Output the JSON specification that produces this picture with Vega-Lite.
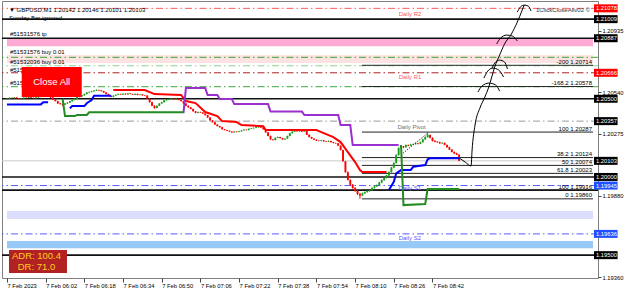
{
"$schema":"https://vega.github.io/schema/vega-lite/v6.json",
"width":596,"height":277,"autosize":"none",
"padding":{"left":2,"top":1,"right":27,"bottom":12},
"background":"white",
"config":{"view":{"stroke":"#808080"},"text":{"font":"Liberation Sans","fontSize":6},"axis":{"labelFont":"Liberation Sans","grid":false}},
"resolve":{"scale":{"color":"independent"}},
"layer":[
{"data":{"values":[{"p1":1.20882,"p2":1.20835,"g":"pk"},{"p1":1.20779,"p2":1.20728,"g":"lp"},{"p1":1.19782,"p2":1.19731,"g":"lv"},{"p1":1.1959,"p2":1.19545,"g":"lb"}]},
 "mark":{"type":"rect"},
 "encoding":{
  "x":{"datum":{"year":1900,"month":1,"date":1,"hours":5,"minutes":46},"type":"temporal","scale":{"type":"time","domain":[{"year":1900,"month":1,"date":1,"hours":5,"minutes":46},{"year":1900,"month":1,"date":1,"hours":9,"minutes":48,"seconds":24}],"nice":false},"axis":{"title":null}},
  "x2":{"datum":{"year":1900,"month":1,"date":1,"hours":9,"minutes":48,"seconds":24}},
  "y":{"field":"p1","type":"quantitative","scale":{"domain":[1.19354,1.21125],"nice":false,"zero":false},"axis":{"title":null}},
  "y2":{"field":"p2"},
  "color":{"field":"g","type":"nominal","scale":{"domain":["pk","lp","lv","lb"],"range":["#ffaad4","#fde2e2","#dcdcfc","#98c8f6"]},"legend":null}}},
{"data":{"values":[{"p":1.21078,"g":"R2"},{"p":1.20765,"g":"G"},{"p":1.20711,"g":"G2"},{"p":1.20666,"g":"R1"},{"p":1.20577,"g":"G"},{"p":1.20357,"g":"PV"},{"p":1.19945,"g":"S"},{"p":1.19636,"g":"S"}]},
 "mark":{"type":"rule","strokeDash":[7,3,1.5,3],"strokeWidth":1},
 "encoding":{
  "y":{"field":"p","type":"quantitative","scale":{"domain":[1.19354,1.21125],"nice":false,"zero":false},"axis":{"title":null}},
  "color":{"field":"g","type":"nominal","scale":{"domain":["R2","R1","G","G2","PV","S"],"range":["#ff5a5a","#b22222","#3aa63a","#8fd18f","#9a9a9a","#5a5aff"]},"legend":null}}},
{"data":{"values":[{"p":1.21009},{"p":1.20887},{"p":1.205},{"p":1.2},{"p":1.19916},{"p":1.195}]},
 "mark":{"type":"rule","color":"#111111","strokeWidth":1.6},
 "encoding":{"y":{"field":"p","type":"quantitative","scale":{"domain":[1.19354,1.21125],"nice":false,"zero":false},"axis":{"title":null}}}},
{"data":{"values":[{"p":1.20103}]},
 "mark":{"type":"rule","color":"#c8c8c8","strokeWidth":1},
 "encoding":{"y":{"field":"p","type":"quantitative","scale":{"domain":[1.19354,1.21125],"nice":false,"zero":false},"axis":{"title":null}}}},
{"data":{"values":[{"p":1.20714,"lab":"-200 1.20714"},{"p":1.20578,"lab":"-168.2 1.20578"},{"p":1.20287,"lab":"100 1.20287"},{"p":1.20124,"lab":"38.2 1.20124"},{"p":1.20074,"lab":"50 1.20074"},{"p":1.20023,"lab":"61.8 1.20023"},{"p":1.19916,"lab":"100 1.19916"},{"p":1.1986,"lab":"0 1.19860"}]},
 "layer":[
 {"mark":{"type":"rule","color":"#222222","strokeWidth":1},
  "encoding":{
   "x":{"datum":{"year":1900,"month":1,"date":1,"hours":8,"minutes":12,"seconds":49},"type":"temporal","scale":{"type":"time","domain":[{"year":1900,"month":1,"date":1,"hours":5,"minutes":46},{"year":1900,"month":1,"date":1,"hours":9,"minutes":48,"seconds":24}],"nice":false},"axis":{"title":null}},
   "x2":{"datum":{"year":1900,"month":1,"date":1,"hours":9,"minutes":48,"seconds":24}},
   "y":{"field":"p","type":"quantitative","scale":{"domain":[1.19354,1.21125],"nice":false,"zero":false},"axis":{"title":null}}}},
 {"mark":{"type":"text","align":"right","baseline":"bottom","dy":-0.5,"fontSize":6,"color":"#000000"},
  "encoding":{
   "x":{"datum":{"year":1900,"month":1,"date":1,"hours":9,"minutes":47,"seconds":59},"type":"temporal","scale":{"type":"time","domain":[{"year":1900,"month":1,"date":1,"hours":5,"minutes":46},{"year":1900,"month":1,"date":1,"hours":9,"minutes":48,"seconds":24}],"nice":false},"axis":{"title":null}},
   "y":{"field":"p","type":"quantitative","scale":{"domain":[1.19354,1.21125],"nice":false,"zero":false},"axis":{"title":null}},
   "text":{"field":"lab"}}}
 ]},
{"data":{"format":{"parse":{"t":"date:'%H:%M'"}},"values":[
{"t":"05:46","o":1.20498,"h":1.20503,"l":1.20496,"c":1.20500},
{"t":"05:47","o":1.20500,"h":1.20508,"l":1.20499,"c":1.20506},
{"t":"05:48","o":1.20506,"h":1.20507,"l":1.20501,"c":1.20503},
{"t":"05:49","o":1.20503,"h":1.20510,"l":1.20502,"c":1.20508},
{"t":"05:50","o":1.20508,"h":1.20509,"l":1.20502,"c":1.20504},
{"t":"05:51","o":1.20504,"h":1.20505,"l":1.20497,"c":1.20499},
{"t":"05:52","o":1.20499,"h":1.20504,"l":1.20498,"c":1.20502},
{"t":"05:53","o":1.20502,"h":1.20509,"l":1.20501,"c":1.20507},
{"t":"05:54","o":1.20507,"h":1.20508,"l":1.20503,"c":1.20505},
{"t":"05:55","o":1.20505,"h":1.20512,"l":1.20504,"c":1.20510},
{"t":"05:56","o":1.20510,"h":1.20511,"l":1.20504,"c":1.20506},
{"t":"05:57","o":1.20506,"h":1.20507,"l":1.20501,"c":1.20503},
{"t":"05:58","o":1.20503,"h":1.20510,"l":1.20502,"c":1.20508},
{"t":"05:59","o":1.20508,"h":1.20514,"l":1.20507,"c":1.20512},
{"t":"06:00","o":1.20512,"h":1.20517,"l":1.20510,"c":1.20515},
{"t":"06:01","o":1.20515,"h":1.20521,"l":1.20514,"c":1.20518},
{"t":"06:02","o":1.20518,"h":1.20519,"l":1.20512,"c":1.20514},
{"t":"06:03","o":1.20514,"h":1.20522,"l":1.20513,"c":1.20519},
{"t":"06:04","o":1.20519,"h":1.20520,"l":1.20506,"c":1.20508},
{"t":"06:05","o":1.20508,"h":1.20510,"l":1.20493,"c":1.20495},
{"t":"06:06","o":1.20495,"h":1.20497,"l":1.20483,"c":1.20485},
{"t":"06:07","o":1.20485,"h":1.20487,"l":1.20468,"c":1.20470},
{"t":"06:08","o":1.20470,"h":1.20474,"l":1.20463,"c":1.20466},
{"t":"06:09","o":1.20466,"h":1.20468,"l":1.20455,"c":1.20462},
{"t":"06:10","o":1.20462,"h":1.20472,"l":1.20460,"c":1.20470},
{"t":"06:11","o":1.20470,"h":1.20478,"l":1.20468,"c":1.20475},
{"t":"06:12","o":1.20475,"h":1.20486,"l":1.20473,"c":1.20484},
{"t":"06:13","o":1.20484,"h":1.20494,"l":1.20482,"c":1.20492},
{"t":"06:14","o":1.20492,"h":1.20502,"l":1.20490,"c":1.20500},
{"t":"06:15","o":1.20500,"h":1.20513,"l":1.20498,"c":1.20511},
{"t":"06:16","o":1.20511,"h":1.20518,"l":1.20509,"c":1.20515},
{"t":"06:17","o":1.20515,"h":1.20524,"l":1.20513,"c":1.20522},
{"t":"06:18","o":1.20522,"h":1.20533,"l":1.20520,"c":1.20530},
{"t":"06:19","o":1.20530,"h":1.20542,"l":1.20528,"c":1.20540},
{"t":"06:20","o":1.20540,"h":1.20546,"l":1.20536,"c":1.20543},
{"t":"06:21","o":1.20543,"h":1.20551,"l":1.20541,"c":1.20548},
{"t":"06:22","o":1.20548,"h":1.20555,"l":1.20546,"c":1.20552},
{"t":"06:23","o":1.20552,"h":1.20560,"l":1.20550,"c":1.20556},
{"t":"06:24","o":1.20556,"h":1.20558,"l":1.20550,"c":1.20553},
{"t":"06:25","o":1.20553,"h":1.20555,"l":1.20546,"c":1.20549},
{"t":"06:26","o":1.20549,"h":1.20551,"l":1.20538,"c":1.20540},
{"t":"06:27","o":1.20540,"h":1.20542,"l":1.20528,"c":1.20530},
{"t":"06:28","o":1.20530,"h":1.20532,"l":1.20518,"c":1.20520},
{"t":"06:29","o":1.20520,"h":1.20522,"l":1.20509,"c":1.20512},
{"t":"06:30","o":1.20512,"h":1.20522,"l":1.20510,"c":1.20520},
{"t":"06:31","o":1.20520,"h":1.20527,"l":1.20518,"c":1.20525},
{"t":"06:32","o":1.20525,"h":1.20533,"l":1.20523,"c":1.20530},
{"t":"06:33","o":1.20530,"h":1.20532,"l":1.20525,"c":1.20527},
{"t":"06:34","o":1.20527,"h":1.20535,"l":1.20525,"c":1.20532},
{"t":"06:35","o":1.20532,"h":1.20534,"l":1.20526,"c":1.20528},
{"t":"06:36","o":1.20528,"h":1.20537,"l":1.20527,"c":1.20534},
{"t":"06:37","o":1.20534,"h":1.20536,"l":1.20528,"c":1.20530},
{"t":"06:38","o":1.20530,"h":1.20532,"l":1.20524,"c":1.20526},
{"t":"06:39","o":1.20526,"h":1.20534,"l":1.20524,"c":1.20531},
{"t":"06:40","o":1.20531,"h":1.20533,"l":1.20522,"c":1.20524},
{"t":"06:41","o":1.20524,"h":1.20530,"l":1.20522,"c":1.20528},
{"t":"06:42","o":1.20528,"h":1.20530,"l":1.20520,"c":1.20522},
{"t":"06:43","o":1.20522,"h":1.20524,"l":1.20517,"c":1.20520},
{"t":"06:44","o":1.20520,"h":1.20522,"l":1.20498,"c":1.20500},
{"t":"06:45","o":1.20500,"h":1.20502,"l":1.20475,"c":1.20478},
{"t":"06:46","o":1.20478,"h":1.20480,"l":1.20452,"c":1.20455},
{"t":"06:47","o":1.20455,"h":1.20458,"l":1.20436,"c":1.20441},
{"t":"06:48","o":1.20441,"h":1.20457,"l":1.20439,"c":1.20455},
{"t":"06:49","o":1.20455,"h":1.20472,"l":1.20453,"c":1.20470},
{"t":"06:50","o":1.20470,"h":1.20481,"l":1.20468,"c":1.20478},
{"t":"06:51","o":1.20478,"h":1.20492,"l":1.20476,"c":1.20490},
{"t":"06:52","o":1.20490,"h":1.20498,"l":1.20488,"c":1.20495},
{"t":"06:53","o":1.20495,"h":1.20501,"l":1.20493,"c":1.20498},
{"t":"06:54","o":1.20498,"h":1.20505,"l":1.20496,"c":1.20502},
{"t":"06:55","o":1.20502,"h":1.20504,"l":1.20494,"c":1.20496},
{"t":"06:56","o":1.20496,"h":1.20503,"l":1.20494,"c":1.20500},
{"t":"06:57","o":1.20500,"h":1.20502,"l":1.20490,"c":1.20492},
{"t":"06:58","o":1.20492,"h":1.20494,"l":1.20483,"c":1.20485},
{"t":"06:59","o":1.20485,"h":1.20487,"l":1.20468,"c":1.20470},
{"t":"07:00","o":1.20470,"h":1.20472,"l":1.20452,"c":1.20455},
{"t":"07:01","o":1.20455,"h":1.20458,"l":1.20443,"c":1.20445},
{"t":"07:02","o":1.20445,"h":1.20447,"l":1.20432,"c":1.20435},
{"t":"07:03","o":1.20435,"h":1.20437,"l":1.20418,"c":1.20420},
{"t":"07:04","o":1.20420,"h":1.20422,"l":1.20407,"c":1.20410},
{"t":"07:05","o":1.20410,"h":1.20418,"l":1.20408,"c":1.20415},
{"t":"07:06","o":1.20415,"h":1.20417,"l":1.20410,"c":1.20412},
{"t":"07:07","o":1.20412,"h":1.20414,"l":1.20403,"c":1.20405},
{"t":"07:08","o":1.20405,"h":1.20407,"l":1.20393,"c":1.20395},
{"t":"07:09","o":1.20395,"h":1.20397,"l":1.20378,"c":1.20380},
{"t":"07:10","o":1.20380,"h":1.20382,"l":1.20360,"c":1.20362},
{"t":"07:11","o":1.20362,"h":1.20364,"l":1.20348,"c":1.20350},
{"t":"07:12","o":1.20350,"h":1.20352,"l":1.20333,"c":1.20335},
{"t":"07:13","o":1.20335,"h":1.20337,"l":1.20323,"c":1.20325},
{"t":"07:14","o":1.20325,"h":1.20327,"l":1.20315,"c":1.20318},
{"t":"07:15","o":1.20318,"h":1.20320,"l":1.20303,"c":1.20305},
{"t":"07:16","o":1.20305,"h":1.20307,"l":1.20298,"c":1.20300},
{"t":"07:17","o":1.20300,"h":1.20302,"l":1.20293,"c":1.20295},
{"t":"07:18","o":1.20295,"h":1.20297,"l":1.20288,"c":1.20290},
{"t":"07:19","o":1.20290,"h":1.20292,"l":1.20282,"c":1.20285},
{"t":"07:20","o":1.20285,"h":1.20293,"l":1.20283,"c":1.20290},
{"t":"07:21","o":1.20290,"h":1.20292,"l":1.20285,"c":1.20288},
{"t":"07:22","o":1.20288,"h":1.20295,"l":1.20286,"c":1.20292},
{"t":"07:23","o":1.20292,"h":1.20300,"l":1.20290,"c":1.20298},
{"t":"07:24","o":1.20298,"h":1.20305,"l":1.20296,"c":1.20302},
{"t":"07:25","o":1.20302,"h":1.20304,"l":1.20297,"c":1.20300},
{"t":"07:26","o":1.20300,"h":1.20310,"l":1.20298,"c":1.20308},
{"t":"07:27","o":1.20308,"h":1.20313,"l":1.20306,"c":1.20311},
{"t":"07:28","o":1.20311,"h":1.20316,"l":1.20309,"c":1.20314},
{"t":"07:29","o":1.20314,"h":1.20321,"l":1.20312,"c":1.20318},
{"t":"07:30","o":1.20318,"h":1.20326,"l":1.20316,"c":1.20322},
{"t":"07:31","o":1.20322,"h":1.20330,"l":1.20314,"c":1.20316},
{"t":"07:32","o":1.20316,"h":1.20318,"l":1.20303,"c":1.20305},
{"t":"07:33","o":1.20305,"h":1.20307,"l":1.20283,"c":1.20285},
{"t":"07:34","o":1.20285,"h":1.20287,"l":1.20260,"c":1.20262},
{"t":"07:35","o":1.20262,"h":1.20264,"l":1.20238,"c":1.20240},
{"t":"07:36","o":1.20240,"h":1.20242,"l":1.20233,"c":1.20236},
{"t":"07:37","o":1.20236,"h":1.20252,"l":1.20234,"c":1.20250},
{"t":"07:38","o":1.20250,"h":1.20258,"l":1.20248,"c":1.20255},
{"t":"07:39","o":1.20255,"h":1.20257,"l":1.20246,"c":1.20248},
{"t":"07:40","o":1.20248,"h":1.20250,"l":1.20238,"c":1.20240},
{"t":"07:41","o":1.20240,"h":1.20247,"l":1.20238,"c":1.20245},
{"t":"07:42","o":1.20245,"h":1.20264,"l":1.20243,"c":1.20262},
{"t":"07:43","o":1.20262,"h":1.20282,"l":1.20260,"c":1.20280},
{"t":"07:44","o":1.20280,"h":1.20292,"l":1.20278,"c":1.20290},
{"t":"07:45","o":1.20290,"h":1.20297,"l":1.20288,"c":1.20294},
{"t":"07:46","o":1.20294,"h":1.20296,"l":1.20289,"c":1.20292},
{"t":"07:47","o":1.20292,"h":1.20299,"l":1.20290,"c":1.20296},
{"t":"07:48","o":1.20296,"h":1.20298,"l":1.20288,"c":1.20290},
{"t":"07:49","o":1.20290,"h":1.20297,"l":1.20288,"c":1.20294},
{"t":"07:50","o":1.20294,"h":1.20296,"l":1.20268,"c":1.20270},
{"t":"07:51","o":1.20270,"h":1.20272,"l":1.20253,"c":1.20255},
{"t":"07:52","o":1.20255,"h":1.20257,"l":1.20243,"c":1.20245},
{"t":"07:53","o":1.20245,"h":1.20247,"l":1.20236,"c":1.20238},
{"t":"07:54","o":1.20238,"h":1.20240,"l":1.20230,"c":1.20232},
{"t":"07:55","o":1.20232,"h":1.20234,"l":1.20228,"c":1.20230},
{"t":"07:56","o":1.20230,"h":1.20237,"l":1.20228,"c":1.20234},
{"t":"07:57","o":1.20234,"h":1.20236,"l":1.20226,"c":1.20228},
{"t":"07:58","o":1.20228,"h":1.20230,"l":1.20223,"c":1.20226},
{"t":"07:59","o":1.20226,"h":1.20233,"l":1.20224,"c":1.20230},
{"t":"08:00","o":1.20230,"h":1.20232,"l":1.20220,"c":1.20222},
{"t":"08:01","o":1.20222,"h":1.20224,"l":1.20215,"c":1.20217},
{"t":"08:02","o":1.20217,"h":1.20219,"l":1.20212,"c":1.20215},
{"t":"08:03","o":1.20215,"h":1.20217,"l":1.20198,"c":1.20200},
{"t":"08:04","o":1.20200,"h":1.20202,"l":1.20170,"c":1.20172},
{"t":"08:05","o":1.20172,"h":1.20174,"l":1.20098,"c":1.20100},
{"t":"08:06","o":1.20100,"h":1.20102,"l":1.20028,"c":1.20030},
{"t":"08:07","o":1.20030,"h":1.20035,"l":1.19978,"c":1.19980},
{"t":"08:08","o":1.19980,"h":1.19985,"l":1.19945,"c":1.19950},
{"t":"08:09","o":1.19950,"h":1.19955,"l":1.19925,"c":1.19929},
{"t":"08:10","o":1.19929,"h":1.19935,"l":1.19905,"c":1.19910},
{"t":"08:11","o":1.19910,"h":1.19915,"l":1.19885,"c":1.19891},
{"t":"08:12","o":1.19891,"h":1.19898,"l":1.19860,"c":1.19882},
{"t":"08:13","o":1.19882,"h":1.19900,"l":1.19878,"c":1.19895},
{"t":"08:14","o":1.19895,"h":1.19907,"l":1.19890,"c":1.19903},
{"t":"08:15","o":1.19903,"h":1.19914,"l":1.19900,"c":1.19910},
{"t":"08:16","o":1.19910,"h":1.19920,"l":1.19905,"c":1.19916},
{"t":"08:17","o":1.19916,"h":1.19934,"l":1.19912,"c":1.19930},
{"t":"08:18","o":1.19930,"h":1.19944,"l":1.19926,"c":1.19940},
{"t":"08:19","o":1.19940,"h":1.19952,"l":1.19936,"c":1.19948},
{"t":"08:20","o":1.19948,"h":1.19969,"l":1.19944,"c":1.19965},
{"t":"08:21","o":1.19965,"h":1.19984,"l":1.19960,"c":1.19980},
{"t":"08:22","o":1.19980,"h":1.19997,"l":1.19976,"c":1.19993},
{"t":"08:23","o":1.19993,"h":1.20014,"l":1.19990,"c":1.20010},
{"t":"08:24","o":1.20010,"h":1.20036,"l":1.20007,"c":1.20031},
{"t":"08:25","o":1.20031,"h":1.20064,"l":1.20028,"c":1.20060},
{"t":"08:26","o":1.20060,"h":1.20094,"l":1.20056,"c":1.20089},
{"t":"08:27","o":1.20089,"h":1.20146,"l":1.20086,"c":1.20140},
{"t":"08:28","o":1.20140,"h":1.20190,"l":1.20136,"c":1.20185},
{"t":"08:29","o":1.20185,"h":1.20200,"l":1.20182,"c":1.20195},
{"t":"08:30","o":1.20195,"h":1.20198,"l":1.20184,"c":1.20190},
{"t":"08:31","o":1.20190,"h":1.20208,"l":1.20187,"c":1.20204},
{"t":"08:32","o":1.20204,"h":1.20207,"l":1.20196,"c":1.20200},
{"t":"08:33","o":1.20200,"h":1.20212,"l":1.20197,"c":1.20208},
{"t":"08:34","o":1.20208,"h":1.20214,"l":1.20205,"c":1.20210},
{"t":"08:35","o":1.20210,"h":1.20219,"l":1.20207,"c":1.20215},
{"t":"08:36","o":1.20215,"h":1.20218,"l":1.20208,"c":1.20212},
{"t":"08:37","o":1.20212,"h":1.20226,"l":1.20210,"c":1.20222},
{"t":"08:38","o":1.20222,"h":1.20244,"l":1.20220,"c":1.20240},
{"t":"08:39","o":1.20240,"h":1.20259,"l":1.20237,"c":1.20255},
{"t":"08:40","o":1.20255,"h":1.20287,"l":1.20252,"c":1.20268},
{"t":"08:41","o":1.20268,"h":1.20271,"l":1.20247,"c":1.20250},
{"t":"08:42","o":1.20250,"h":1.20253,"l":1.20227,"c":1.20230},
{"t":"08:43","o":1.20230,"h":1.20236,"l":1.20222,"c":1.20225},
{"t":"08:44","o":1.20225,"h":1.20229,"l":1.20219,"c":1.20222},
{"t":"08:45","o":1.20222,"h":1.20226,"l":1.20212,"c":1.20215},
{"t":"08:46","o":1.20215,"h":1.20222,"l":1.20212,"c":1.20218},
{"t":"08:47","o":1.20218,"h":1.20220,"l":1.20203,"c":1.20205},
{"t":"08:48","o":1.20205,"h":1.20208,"l":1.20187,"c":1.20190},
{"t":"08:49","o":1.20190,"h":1.20193,"l":1.20172,"c":1.20175},
{"t":"08:50","o":1.20175,"h":1.20178,"l":1.20157,"c":1.20160},
{"t":"08:51","o":1.20160,"h":1.20163,"l":1.20147,"c":1.20150},
{"t":"08:52","o":1.20150,"h":1.20155,"l":1.20140,"c":1.20142},
{"t":"08:53","o":1.20142,"h":1.20146,"l":1.20101,"c":1.20103}
]},
 "layer":[
 {"mark":{"type":"rule","strokeWidth":1},
  "encoding":{
   "x":{"field":"t","type":"temporal","scale":{"type":"time","domain":[{"year":1900,"month":1,"date":1,"hours":5,"minutes":46},{"year":1900,"month":1,"date":1,"hours":9,"minutes":48,"seconds":24}],"nice":false},
    "axis":{"title":null,"grid":false,"domain":false,"tickSize":4,"tickColor":"#444444","labelFontSize":5.8,"labelColor":"#000000","labelAlign":"left","labelDx":1,"labelPadding":0,"labelOverlap":false,"labelFlush":false,
     "values":[{"year":1900,"month":1,"date":1,"hours":5,"minutes":46},{"year":1900,"month":1,"date":1,"hours":6,"minutes":2},{"year":1900,"month":1,"date":1,"hours":6,"minutes":18},{"year":1900,"month":1,"date":1,"hours":6,"minutes":34},{"year":1900,"month":1,"date":1,"hours":6,"minutes":50},{"year":1900,"month":1,"date":1,"hours":7,"minutes":6},{"year":1900,"month":1,"date":1,"hours":7,"minutes":22},{"year":1900,"month":1,"date":1,"hours":7,"minutes":38},{"year":1900,"month":1,"date":1,"hours":7,"minutes":54},{"year":1900,"month":1,"date":1,"hours":8,"minutes":10},{"year":1900,"month":1,"date":1,"hours":8,"minutes":26},{"year":1900,"month":1,"date":1,"hours":8,"minutes":42}],
     "labelExpr":"timeFormat(datum.value, '%H:%M') == '05:46' ? '7 Feb 2023' : '7 Feb ' + timeFormat(datum.value, '%H:%M')"}},
   "y":{"field":"l","type":"quantitative","scale":{"domain":[1.19354,1.21125],"nice":false,"zero":false},
    "axis":{"orient":"right","title":null,"grid":false,"domain":false,"tickSize":3,"tickColor":"#444444","labelFontSize":5.8,"labelColor":"#000000","labelPadding":1,"labelOverlap":false,"labelFlush":false,"format":".5f",
     "values":[1.20935,1.208,1.2054,1.20405,1.20275,1.20145,1.1988,1.1975,1.1936]}},
   "y2":{"field":"h"},
   "color":{"condition":{"test":"datum.c >= datum.o","value":"#1a9e1a"},"value":"#ff0000"}}},
 {"mark":{"type":"bar","size":1.9},
  "encoding":{
   "x":{"field":"t","type":"temporal","scale":{"type":"time","domain":[{"year":1900,"month":1,"date":1,"hours":5,"minutes":46},{"year":1900,"month":1,"date":1,"hours":9,"minutes":48,"seconds":24}],"nice":false},"axis":{"title":null}},
   "y":{"field":"o","type":"quantitative","scale":{"domain":[1.19354,1.21125],"nice":false,"zero":false},"axis":{"title":null}},
   "y2":{"field":"c"},
   "color":{"condition":{"test":"datum.c >= datum.o","value":"#1a9e1a"},"value":"#ff0000"}}}
 ]},
{"data":{"format":{"parse":{"t":"date:'%H:%M'"}},"values":[
{"t":"06:30","p":1.20556,"s":"red"},{"t":"06:43","p":1.20556,"s":"red"},{"t":"06:47","p":1.2053,"s":"red"},{"t":"06:58","p":1.20524,"s":"red"},{"t":"07:00","p":1.20485,"s":"red"},{"t":"07:04","p":1.20472,"s":"red"},{"t":"07:08","p":1.20415,"s":"red"},{"t":"07:13","p":1.20389,"s":"red"},{"t":"07:15","p":1.20357,"s":"red"},{"t":"07:21","p":1.20351,"s":"red"},{"t":"07:23","p":1.20332,"s":"red"},{"t":"07:32","p":1.20325,"s":"red"},{"t":"07:33","p":1.203,"s":"red"},{"t":"07:54","p":1.203,"s":"red"},{"t":"07:56","p":1.20287,"s":"red"},{"t":"08:01","p":1.20255,"s":"red"},{"t":"08:04","p":1.20223,"s":"red"},{"t":"08:07","p":1.20159,"s":"red"},{"t":"08:10","p":1.20095,"s":"red"},{"t":"08:12","p":1.20044,"s":"red"},{"t":"08:13","p":1.20031,"s":"red"},{"t":"08:23","p":1.20031,"s":"red"},
{"t":"06:59","p":1.20408,"s":"pur"},{"t":"07:00","p":1.20568,"s":"pur"},{"t":"07:08","p":1.20568,"s":"pur"},{"t":"07:09","p":1.20524,"s":"pur"},{"t":"07:13","p":1.20524,"s":"pur"},{"t":"07:14","p":1.20498,"s":"pur"},{"t":"07:19","p":1.20498,"s":"pur"},{"t":"07:20","p":1.20466,"s":"pur"},{"t":"07:34","p":1.20466,"s":"pur"},{"t":"07:35","p":1.20418,"s":"pur"},{"t":"07:48","p":1.20418,"s":"pur"},{"t":"07:49","p":1.20396,"s":"pur"},{"t":"08:03","p":1.20396,"s":"pur"},{"t":"08:04","p":1.20332,"s":"pur"},{"t":"08:08","p":1.20332,"s":"pur"},{"t":"08:09","p":1.20204,"s":"pur"},{"t":"08:28","p":1.20204,"s":"pur"},
{"t":"05:46","p":1.20464,"s":"b1"},{"t":"06:00","p":1.20464,"s":"b1"},{"t":"06:01","p":1.20477,"s":"b1"},{"t":"06:03","p":1.20477,"s":"b1"},
{"t":"06:12","p":1.20439,"s":"b2"},{"t":"06:13","p":1.20453,"s":"b2"},{"t":"06:18","p":1.20453,"s":"b2"},{"t":"06:19","p":1.20471,"s":"b2"},{"t":"06:21","p":1.20492,"s":"b2"},{"t":"06:22","p":1.20519,"s":"b2"},{"t":"06:29","p":1.20519,"s":"b2"},
{"t":"08:24","p":1.19916,"s":"b3"},{"t":"08:26","p":1.19969,"s":"b3"},{"t":"08:27","p":1.20023,"s":"b3"},{"t":"08:29","p":1.20044,"s":"b3"},{"t":"08:33","p":1.20044,"s":"b3"},{"t":"08:34","p":1.20065,"s":"b3"},{"t":"08:39","p":1.20076,"s":"b3"},{"t":"08:40","p":1.20113,"s":"b3"},{"t":"08:41","p":1.20119,"s":"b3"},{"t":"08:53","p":1.20119,"s":"b3"},
{"t":"06:09","p":1.205,"s":"g1"},{"t":"06:10","p":1.20389,"s":"g1"},{"t":"06:14","p":1.20389,"s":"g1"},{"t":"06:15","p":1.20396,"s":"g1"},{"t":"06:19","p":1.20396,"s":"g1"},{"t":"06:20","p":1.20413,"s":"g1"},{"t":"06:59","p":1.20413,"s":"g1"},
{"t":"08:29","p":1.20204,"s":"g2"},{"t":"08:30","p":1.1982,"s":"g2"},{"t":"08:39","p":1.19827,"s":"g2"},{"t":"08:40","p":1.19923,"s":"g2"},{"t":"08:53","p":1.19923,"s":"g2"}
]},
 "mark":{"type":"line","strokeWidth":2},
 "encoding":{
  "x":{"field":"t","type":"temporal","scale":{"type":"time","domain":[{"year":1900,"month":1,"date":1,"hours":5,"minutes":46},{"year":1900,"month":1,"date":1,"hours":9,"minutes":48,"seconds":24}],"nice":false},"axis":{"title":null}},
  "y":{"field":"p","type":"quantitative","scale":{"domain":[1.19354,1.21125],"nice":false,"zero":false},"axis":{"title":null}},
  "color":{"field":"s","type":"nominal","scale":{"domain":["red","pur","b1","b2","b3","g1","g2"],"range":["#ff0000","#9b30d0","#0000ff","#0000ff","#0000ff","#228b22","#228b22"]},"legend":null}}},
{"data":{"format":{"parse":{"t":"date:'%H:%M:%S'"}},"values":[
{"t":"08:29:55","p":1.20153,"s":"tl"},{"t":"08:40:05","p":1.20281,"s":"tl"}]},
 "mark":{"type":"line","strokeWidth":1,"strokeDash":[1,1.5],"color":"#000000"},
 "encoding":{
  "x":{"field":"t","type":"temporal","scale":{"type":"time","domain":[{"year":1900,"month":1,"date":1,"hours":5,"minutes":46},{"year":1900,"month":1,"date":1,"hours":9,"minutes":48,"seconds":24}],"nice":false},"axis":{"title":null}},
  "y":{"field":"p","type":"quantitative","scale":{"domain":[1.19354,1.21125],"nice":false,"zero":false},"axis":{"title":null}}}},
{"data":{"format":{"parse":{"t":"date:'%H:%M:%S'"}},"values":[
{"t":"08:53:05","p":1.20121,"s":"m"},{"t":"08:55:32","p":1.20095,"s":"m"},{"t":"08:57:58","p":1.2007,"s":"m"},{"t":"08:58:23","p":1.20172,"s":"m"},{"t":"08:59:36","p":1.20332,"s":"m"},{"t":"09:01:38","p":1.20441,"s":"m"},{"t":"09:03:40","p":1.20511,"s":"m"},{"t":"09:05:17","p":1.20575,"s":"m"},{"t":"09:06:31","p":1.20639,"s":"m"},{"t":"09:07:44","p":1.20703,"s":"m"},{"t":"09:09:46","p":1.20779,"s":"m"},{"t":"09:11:48","p":1.2085,"s":"m"},{"t":"09:14:39","p":1.20914,"s":"m"},{"t":"09:17:05","p":1.2099,"s":"m"},{"t":"09:19:07","p":1.21067,"s":"m"},{"t":"09:19:56","p":1.21099,"s":"m"},
{"t":"09:00:49","p":1.20543,"s":"a1"},{"t":"09:02:27","p":1.20581,"s":"a1"},{"t":"09:05:17","p":1.206,"s":"a1"},{"t":"09:08:08","p":1.20588,"s":"a1"},{"t":"09:09:46","p":1.20549,"s":"a1"},
{"t":"09:03:16","p":1.20632,"s":"a2"},{"t":"09:04:53","p":1.20677,"s":"a2"},{"t":"09:06:55","p":1.20696,"s":"a2"},{"t":"09:09:22","p":1.20684,"s":"a2"},{"t":"09:11:23","p":1.20639,"s":"a2"},
{"t":"09:06:31","p":1.2069,"s":"a3"},{"t":"09:07:44","p":1.20728,"s":"a3"},{"t":"09:09:46","p":1.20747,"s":"a3"},{"t":"09:11:48","p":1.20735,"s":"a3"},{"t":"09:13:01","p":1.2069,"s":"a3"},
{"t":"09:08:33","p":1.2085,"s":"a4"},{"t":"09:10:10","p":1.20888,"s":"a4"},{"t":"09:12:37","p":1.20907,"s":"a4"},{"t":"09:15:03","p":1.20901,"s":"a4"},{"t":"09:17:05","p":1.20869,"s":"a4"},
{"t":"09:17:05","p":1.21054,"s":"a5"},{"t":"09:18:19","p":1.21086,"s":"a5"},{"t":"09:19:56","p":1.21099,"s":"a5"},{"t":"09:21:34","p":1.21093,"s":"a5"},{"t":"09:22:47","p":1.21061,"s":"a5"}
]},
 "mark":{"type":"line","strokeWidth":1,"color":"#000000","interpolate":"monotone"},
 "encoding":{
  "x":{"field":"t","type":"temporal","scale":{"type":"time","domain":[{"year":1900,"month":1,"date":1,"hours":5,"minutes":46},{"year":1900,"month":1,"date":1,"hours":9,"minutes":48,"seconds":24}],"nice":false},"axis":{"title":null}},
  "y":{"field":"p","type":"quantitative","scale":{"domain":[1.19354,1.21125],"nice":false,"zero":false},"axis":{"title":null}},
  "detail":{"field":"s","type":"nominal"}}},
{"data":{"format":{"parse":{"t":"date:'%H:%M:%S'"}},"values":[
{"t":"05:46:49","p":1.21067,"txt":"▼ GBPUSD,M1  1.20142 1.20146 1.20101 1.20103","g":"k"},
{"t":"05:46:49","p":1.21016,"txt":"Sunday Bar ignored","g":"k"},
{"t":"05:47:13","p":1.20914,"txt":"#51531576 tp","g":"k"},
{"t":"05:47:13","p":1.20799,"txt":"#51531576 buy 0.01","g":"k"},
{"t":"05:47:13","p":1.20735,"txt":"#51532036 buy 0.01","g":"k"},
{"t":"05:47:13","p":1.20684,"txt":"#51532036 tp","g":"k"},
{"t":"05:47:13","p":1.206,"txt":"#51531576 sl","g":"k"},
{"t":"08:28:00","p":1.21042,"txt":"Daily R2","g":"r"},
{"t":"08:28:00","p":1.20639,"txt":"Daily R1","g":"r"},
{"t":"08:27:30","p":1.20319,"txt":"Daily Pivot","g":"gr"},
{"t":"08:28:00","p":1.19929,"txt":"Daily S1","g":"b"},
{"t":"08:28:00","p":1.19609,"txt":"Daily S2","g":"b"}
]},
 "mark":{"type":"text","align":"left","baseline":"middle","fontSize":6},
 "encoding":{
  "x":{"field":"t","type":"temporal","scale":{"type":"time","domain":[{"year":1900,"month":1,"date":1,"hours":5,"minutes":46},{"year":1900,"month":1,"date":1,"hours":9,"minutes":48,"seconds":24}],"nice":false},"axis":{"title":null}},
  "y":{"field":"p","type":"quantitative","scale":{"domain":[1.19354,1.21125],"nice":false,"zero":false},"axis":{"title":null}},
  "text":{"field":"txt"},
  "color":{"field":"g","type":"nominal","scale":{"domain":["k","r","gr","b"],"range":["#000000","#ff5a5a","#707070","#5a5aff"]},"legend":null}}},
{"data":{"format":{"parse":{"t":"date:'%H:%M:%S'"}},"values":[{"t":"09:47:11","p":1.21067,"txt":"1ClickCloseAllv02 ©"}]},
 "mark":{"type":"text","align":"right","baseline":"middle","fontSize":6,"color":"#333333"},
 "encoding":{
  "x":{"field":"t","type":"temporal","scale":{"type":"time","domain":[{"year":1900,"month":1,"date":1,"hours":5,"minutes":46},{"year":1900,"month":1,"date":1,"hours":9,"minutes":48,"seconds":24}],"nice":false},"axis":{"title":null}},
  "y":{"field":"p","type":"quantitative","scale":{"domain":[1.19354,1.21125],"nice":false,"zero":false},"axis":{"title":null}},
  "text":{"field":"txt"}}},
{"data":{"values":[{}]},
 "mark":{"type":"rect","color":"#ff0000"},
 "encoding":{
  "x":{"datum":{"year":1900,"month":1,"date":1,"hours":5,"minutes":52,"seconds":6},"type":"temporal","scale":{"type":"time","domain":[{"year":1900,"month":1,"date":1,"hours":5,"minutes":46},{"year":1900,"month":1,"date":1,"hours":9,"minutes":48,"seconds":24}],"nice":false},"axis":{"title":null}},
  "x2":{"datum":{"year":1900,"month":1,"date":1,"hours":6,"minutes":16,"seconds":55}},
  "y":{"datum":1.20703,"type":"quantitative","scale":{"domain":[1.19354,1.21125],"nice":false,"zero":false},"axis":{"title":null}},
  "y2":{"datum":1.20511}}},
{"data":{"values":[{}]},
 "mark":{"type":"rect","color":"#b22222"},
 "encoding":{
  "x":{"datum":{"year":1900,"month":1,"date":1,"hours":5,"minutes":46,"seconds":49},"type":"temporal","scale":{"type":"time","domain":[{"year":1900,"month":1,"date":1,"hours":5,"minutes":46},{"year":1900,"month":1,"date":1,"hours":9,"minutes":48,"seconds":24}],"nice":false},"axis":{"title":null}},
  "x2":{"datum":{"year":1900,"month":1,"date":1,"hours":6,"minutes":10,"seconds":49}},
  "y":{"datum":1.19533,"type":"quantitative","scale":{"domain":[1.19354,1.21125],"nice":false,"zero":false},"axis":{"title":null}},
  "y2":{"datum":1.19386}}},
{"data":{"format":{"parse":{"t":"date:'%H:%M:%S'"}},"values":[{"t":"06:04:30","p":1.20607,"txt":"Close All","g":"c"},{"t":"05:58:12","p":1.19494,"txt":"ADR: 100.4","g":"a"},{"t":"05:58:12","p":1.19424,"txt":"DR: 71.0","g":"a"}]},
 "mark":{"type":"text","align":"center","baseline":"middle","fontSize":9.5},
 "encoding":{
  "x":{"field":"t","type":"temporal","scale":{"type":"time","domain":[{"year":1900,"month":1,"date":1,"hours":5,"minutes":46},{"year":1900,"month":1,"date":1,"hours":9,"minutes":48,"seconds":24}],"nice":false},"axis":{"title":null}},
  "y":{"field":"p","type":"quantitative","scale":{"domain":[1.19354,1.21125],"nice":false,"zero":false},"axis":{"title":null}},
  "text":{"field":"txt"},
  "color":{"field":"g","type":"nominal","scale":{"domain":["c","a"],"range":["#ffffff","#ffcc22"]},"legend":null}}},
{"data":{"values":[{"p":1.21078,"k":"R"},{"p":1.21009,"k":"L"},{"p":1.20887,"k":"L"},{"p":1.20666,"k":"R"},{"p":1.205,"k":"L"},{"p":1.20357,"k":"L"},{"p":1.20103,"k":"L"},{"p":1.2,"k":"L"},{"p":1.19945,"k":"S"},{"p":1.19636,"k":"S"},{"p":1.195,"k":"L"}]},
 "layer":[
 {"mark":{"type":"rect","yOffset":-4,"y2Offset":4},
  "encoding":{
   "x":{"datum":{"year":1900,"month":1,"date":1,"hours":9,"minutes":48,"seconds":49},"type":"temporal","scale":{"type":"time","domain":[{"year":1900,"month":1,"date":1,"hours":5,"minutes":46},{"year":1900,"month":1,"date":1,"hours":9,"minutes":48,"seconds":24}],"nice":false},"axis":{"title":null}},
   "x2":{"datum":{"year":1900,"month":1,"date":1,"hours":9,"minutes":58,"seconds":34}},
   "y":{"field":"p","type":"quantitative","scale":{"domain":[1.19354,1.21125],"nice":false,"zero":false},"axis":{"title":null}},
   "y2":{"field":"p"},
   "color":{"field":"k","type":"nominal","scale":{"domain":["R","L","S"],"range":["#ff0000","#000000","#2050ff"]},"legend":null}}},
 {"mark":{"type":"text","align":"left","baseline":"middle","fontSize":5.8,"color":"#ffffff"},
  "encoding":{
   "x":{"datum":{"year":1900,"month":1,"date":1,"hours":9,"minutes":49,"seconds":37},"type":"temporal","scale":{"type":"time","domain":[{"year":1900,"month":1,"date":1,"hours":5,"minutes":46},{"year":1900,"month":1,"date":1,"hours":9,"minutes":48,"seconds":24}],"nice":false},"axis":{"title":null}},
   "y":{"field":"p","type":"quantitative","scale":{"domain":[1.19354,1.21125],"nice":false,"zero":false},"axis":{"title":null}},
   "text":{"field":"p","type":"quantitative","format":".5f"}}}
 ]}
]
}
